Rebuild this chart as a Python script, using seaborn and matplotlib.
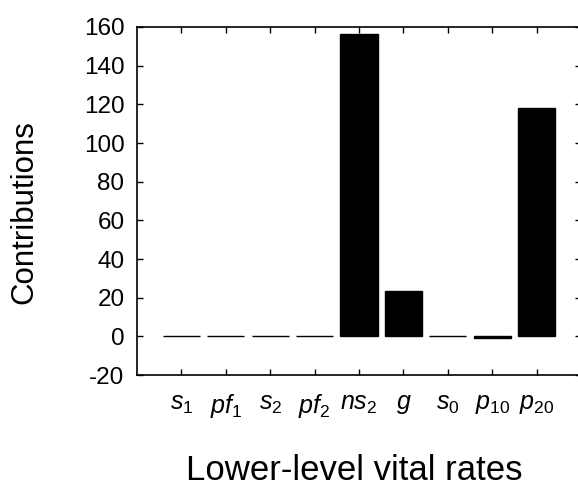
import matplotlib
matplotlib.use("Agg")
import matplotlib.pyplot as plt
import seaborn as sns
import numpy as np
import pandas as pd

# Vital rate labels (mathtext) and their contributions
rate_labels = [r"$s_{\mathrm{1}}$", r"$pf_{\mathrm{1}}$", r"$s_{\mathrm{2}}$", r"$pf_{\mathrm{2}}$",
               r"$ns_{\mathrm{2}}$", r"$g$", r"$s_{\mathrm{0}}$", r"$p_{\mathrm{10}}$", r"$p_{\mathrm{20}}$"]
contributions = [0.3, 0.4, 0.3, 0.3, 156.5, 23.3, 0.4, -0.7, 118.0]
y_ticks = [-20, 0, 20, 40, 60, 80, 100, 120, 140, 160]

sns.set_style("ticks")
plt.rcParams["font.family"] = ["Liberation Sans", "DejaVu Sans"]
plt.rcParams["mathtext.fontset"] = "custom"
plt.rcParams["mathtext.rm"] = "Liberation Sans"
plt.rcParams["mathtext.it"] = "Liberation Sans:italic"
plt.rcParams["text.color"] = "black"
plt.rcParams["axes.labelcolor"] = "black"
plt.rcParams["xtick.color"] = "black"
plt.rcParams["ytick.color"] = "black"

df = pd.DataFrame({"rate": [f"r{i}" for i in range(len(rate_labels))], "value": contributions})

fig = plt.figure(figsize=(5.78, 4.86), dpi=100)
ax = fig.add_axes([137 / 578, 1 - 375 / 486, 444 / 578, 348 / 486])

sns.barplot(data=df, x="rate", y="value", color="black", saturation=1, width=0.84,
            edgecolor="black", linewidth=1, ax=ax)

ax.set_xlim(-1, 9)
ax.set_ylim(-20, 160)
ax.set_yticks(y_ticks)
ax.set_yticklabels([str(t) for t in y_ticks], fontsize=17.5)
ax.set_xticks(range(len(rate_labels)))
ax.set_xticklabels(rate_labels, fontsize=18)

ax.tick_params(axis="both", direction="in", length=4, width=1, top=True, right=True)
ax.tick_params(axis="y", pad=9)
ax.tick_params(axis="x", pad=12)

for spine in ax.spines.values():
    spine.set_visible(True)
    spine.set_linewidth(1.2)
    spine.set_color("black")

ax.set_xlabel("Lower-level vital rates", fontsize=25)
ax.set_ylabel("Contributions", fontsize=22.5)
ax.yaxis.set_label_coords(-0.221, 0.467)
ax.xaxis.set_label_coords(0.49, -0.275)
ax.xaxis.label.set_va("center")

fig.savefig("out.png", dpi=100, facecolor="white")
plt.close(fig)
